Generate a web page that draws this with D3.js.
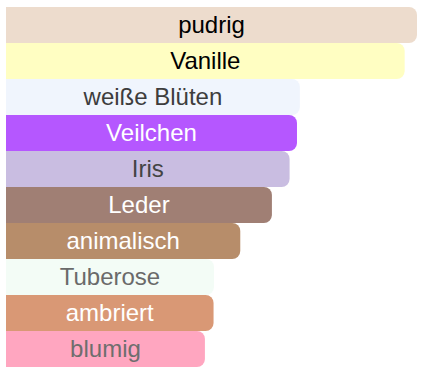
<!DOCTYPE html>
<html>
<head>
<meta charset="utf-8">
<script src="https://cdn.jsdelivr.net/npm/d3@7"></script>
<style>
  body { margin: 0; background: #fff; }
  svg { display: block; }
</style>
</head>
<body>
<div id="chart"></div>
<script>
var categories = ["pudrig", "Vanille", "weiße Blüten", "Veilchen", "Iris", "Leder", "animalisch", "Tuberose", "ambriert", "blumig"];
var values = [100, 97, 71.5, 70.8, 69, 64.7, 57, 50.6, 50.5, 48.4];
var barColors = ["#eddccd", "#fffec2", "#f0f5fd", "#b557ff", "#c9bde1", "#a07f74", "#b78d6a", "#f3fcf6", "#d99875", "#ffa6c0"];
var textColors = ["#000", "#000", "#3d3d3d", "#fff", "#444", "#fff", "#fff", "#6a6a6a", "#fff", "#6e6e6e"];

var width = 423, height = 375;

var data = categories.map(function(c, i) {
	return { name: c, value: values[i], fill: barColors[i], text: textColors[i] };
});

var svg = d3.select("#chart").append("svg")
	.attr("width", width)
	.attr("height", height);

var x = d3.scaleLinear().domain([0, 100]).range([6, 417]);
var y = d3.scaleBand().domain(categories).range([7, 367]).padding(0);

// bar with square left side, rounded right corners
function barPath(d) {
	var x0 = x(0), x1 = x(d.value), y0 = y(d.name), h = y.bandwidth(), r = 8;
	return "M" + x0 + "," + y0 +
		"H" + (x1 - r) +
		"A" + r + "," + r + " 0 0 1 " + x1 + "," + (y0 + r) +
		"V" + (y0 + h - r) +
		"A" + r + "," + r + " 0 0 1 " + (x1 - r) + "," + (y0 + h) +
		"H" + x0 + "Z";
}

svg.selectAll("path.bar")
	.data(data)
	.enter()
		.append("path")
		.attr("class", "bar")
		.attr("fill", function(d) { return d.fill; })
		.attr("d", barPath);

svg.selectAll("text.label")
	.data(data)
	.enter()
		.append("text")
		.attr("class", "label")
		.attr("x", function(d) { return (x(0) + x(d.value)) / 2; })
		.attr("y", function(d) { return y(d.name) + y.bandwidth() / 2; })
		.attr("dy", "0.35em")
		.attr("text-anchor", "middle")
		.attr("fill", function(d) { return d.text; })
		.attr("font-family", "Liberation Sans, Arial, sans-serif")
		.attr("font-size", "24px")
		.text(function(d) { return d.name; });
</script>
</body>
</html>
